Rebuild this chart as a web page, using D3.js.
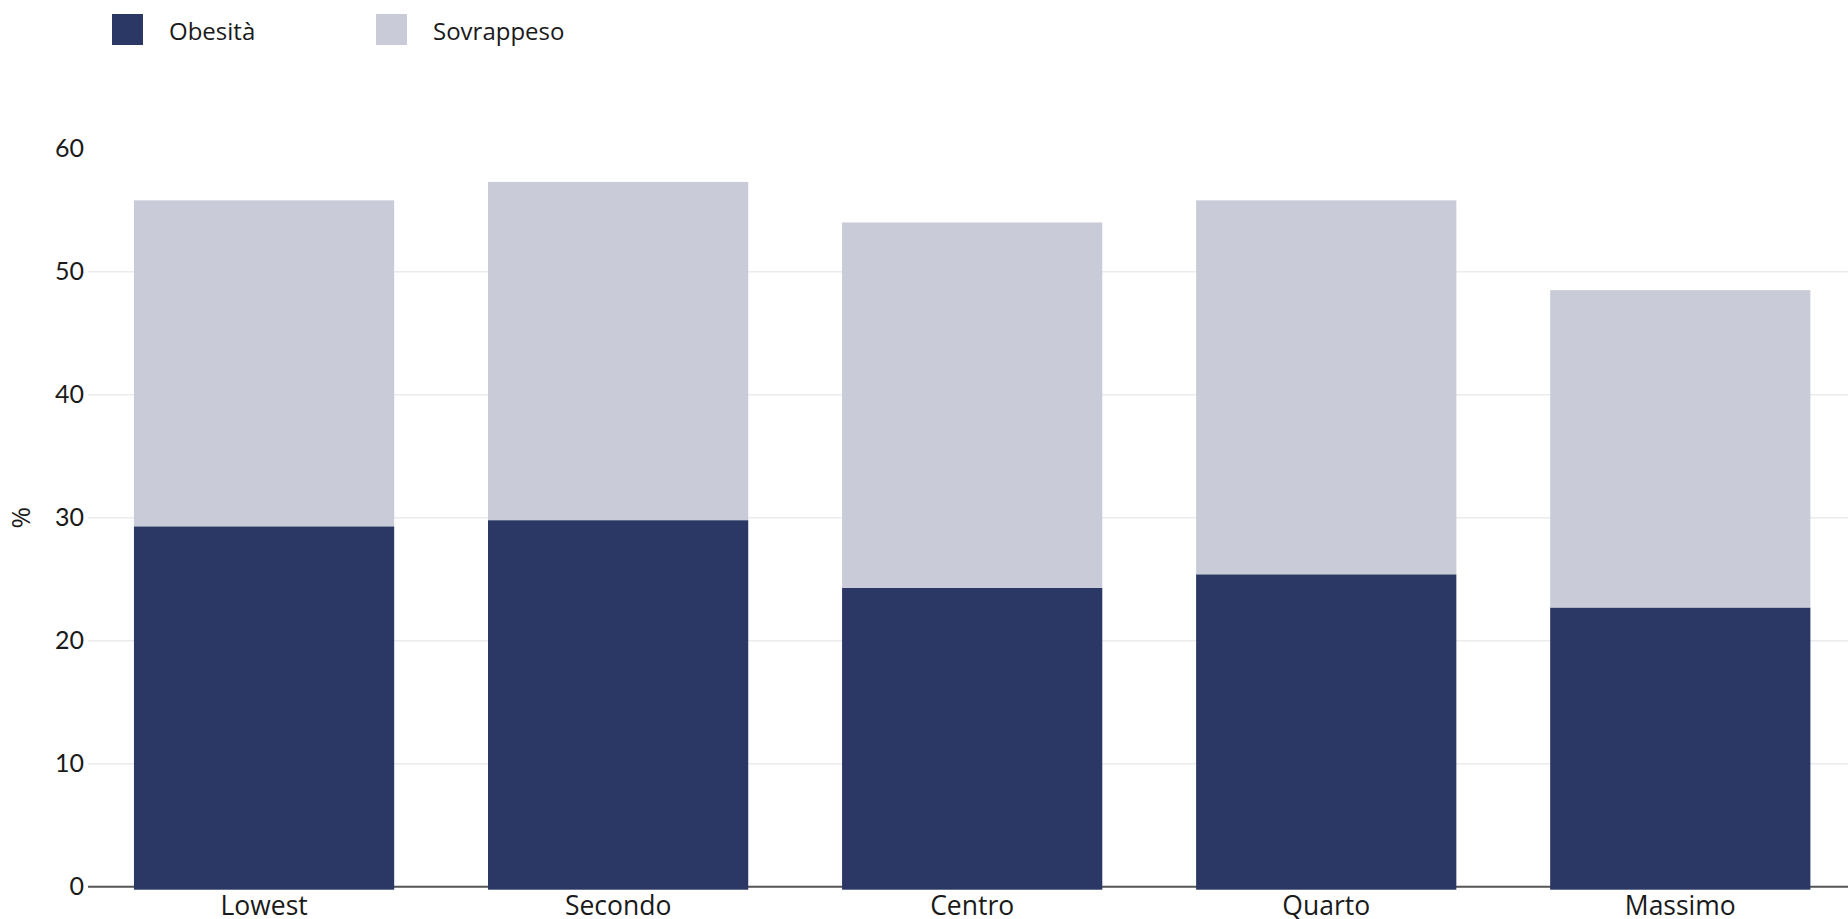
<!DOCTYPE html>
<html>
<head>
<meta charset="utf-8">
<script src="https://cdn.jsdelivr.net/npm/d3@7"></script>
<style>
  html, body { margin: 0; padding: 0; background: #fff; }
  svg { display: block; }
  text { font-family: "Open Sans", Lato, sans-serif; fill: #1a1a1a; }
</style>
</head>
<body>
<svg id="chart" width="1848" height="919"></svg>
<script>
const categories = ["Lowest", "Secondo", "Centro", "Quarto", "Massimo"];
const seriesNames = ["Obesità", "Sovrappeso"];
const obesita = [29.3, 29.8, 24.3, 25.4, 22.7];
const sovrappeso = [26.5, 27.5, 29.7, 30.4, 25.8];
const yTicks = [0, 10, 20, 30, 40, 50, 60];
const gridTicks = [10, 20, 30, 40, 50];
const colors = ["#2b3764", "#c9ccd8"];

const svg = d3.select("#chart");

const plotLeft = 88, plotRight = 1848;
const x = d3.scaleBand()
  .domain(categories)
  .range([plotLeft, plotRight])
  .paddingInner(0.265)
  .paddingOuter(0.118)
  .align(0.55);

const y = d3.scaleLinear().domain([0, 60]).range([886.7, 148.7]);

// gridlines
svg.append("g")
  .selectAll("line")
  .data(gridTicks)
  .join("line")
  .attr("x1", plotLeft).attr("x2", plotRight)
  .attr("y1", d => y(d)).attr("y2", d => y(d))
  .attr("stroke", "#ebebeb").attr("stroke-width", 1.5);

// y axis labels
const yAxis = d3.axisLeft(y).tickValues(yTicks).tickSize(0).tickPadding(4);
const gy = svg.append("g").attr("transform", `translate(${plotLeft},0)`).call(yAxis);
gy.select(".domain").remove();
gy.selectAll("text")
  .style("font-family", "Lato, 'Open Sans', sans-serif")
  .style("font-size", "25px")
  .attr("fill", "#1a1a1a");

// zero axis line
svg.append("line")
  .attr("x1", plotLeft).attr("x2", plotRight)
  .attr("y1", y(0)).attr("y2", y(0))
  .attr("stroke", "#555").attr("stroke-width", 2);

// stacked data
const table = categories.map((c, i) => ({ cat: c, "Obesità": obesita[i], "Sovrappeso": sovrappeso[i] }));
const stacked = d3.stack().keys(seriesNames)(table);

svg.append("g")
  .selectAll("g")
  .data(stacked)
  .join("g")
  .attr("fill", (d, i) => colors[i])
  .selectAll("rect")
  .data(d => d)
  .join("rect")
  .attr("x", d => x(d.data.cat))
  .attr("width", x.bandwidth())
  .attr("y", d => y(d[1]))
  .attr("height", d => (d[0] === 0 ? y(d[0]) + 3 : y(d[0])) - y(d[1]));

// x axis labels
const xAxis = d3.axisBottom(x).tickSize(0).tickPadding(12);
const gx = svg.append("g").attr("transform", `translate(0,${y(0)})`).call(xAxis);
gx.select(".domain").remove();
gx.selectAll("text")
  .style("font-family", "'Open Sans', Lato, sans-serif")
  .style("font-size", "26.5px")
  .attr("dy", "0.62em")
  .attr("fill", "#1a1a1a");

// y axis title
svg.append("text")
  .attr("transform", `translate(30,${(y(0) + y(60)) / 2}) rotate(-90)`)
  .attr("text-anchor", "middle")
  .style("font-size", "26px")
  .text("%");

// legend
const legendX = [112, 376];
const lg = svg.append("g").selectAll("g")
  .data(seriesNames)
  .join("g")
  .attr("transform", (d, i) => `translate(${legendX[i]},14)`);
lg.append("rect").attr("width", 31).attr("height", 31).attr("fill", (d, i) => colors[i]);
lg.append("text").attr("x", 57).attr("y", 26).style("font-size", "24px").text(d => d);
</script>
</body>
</html>
